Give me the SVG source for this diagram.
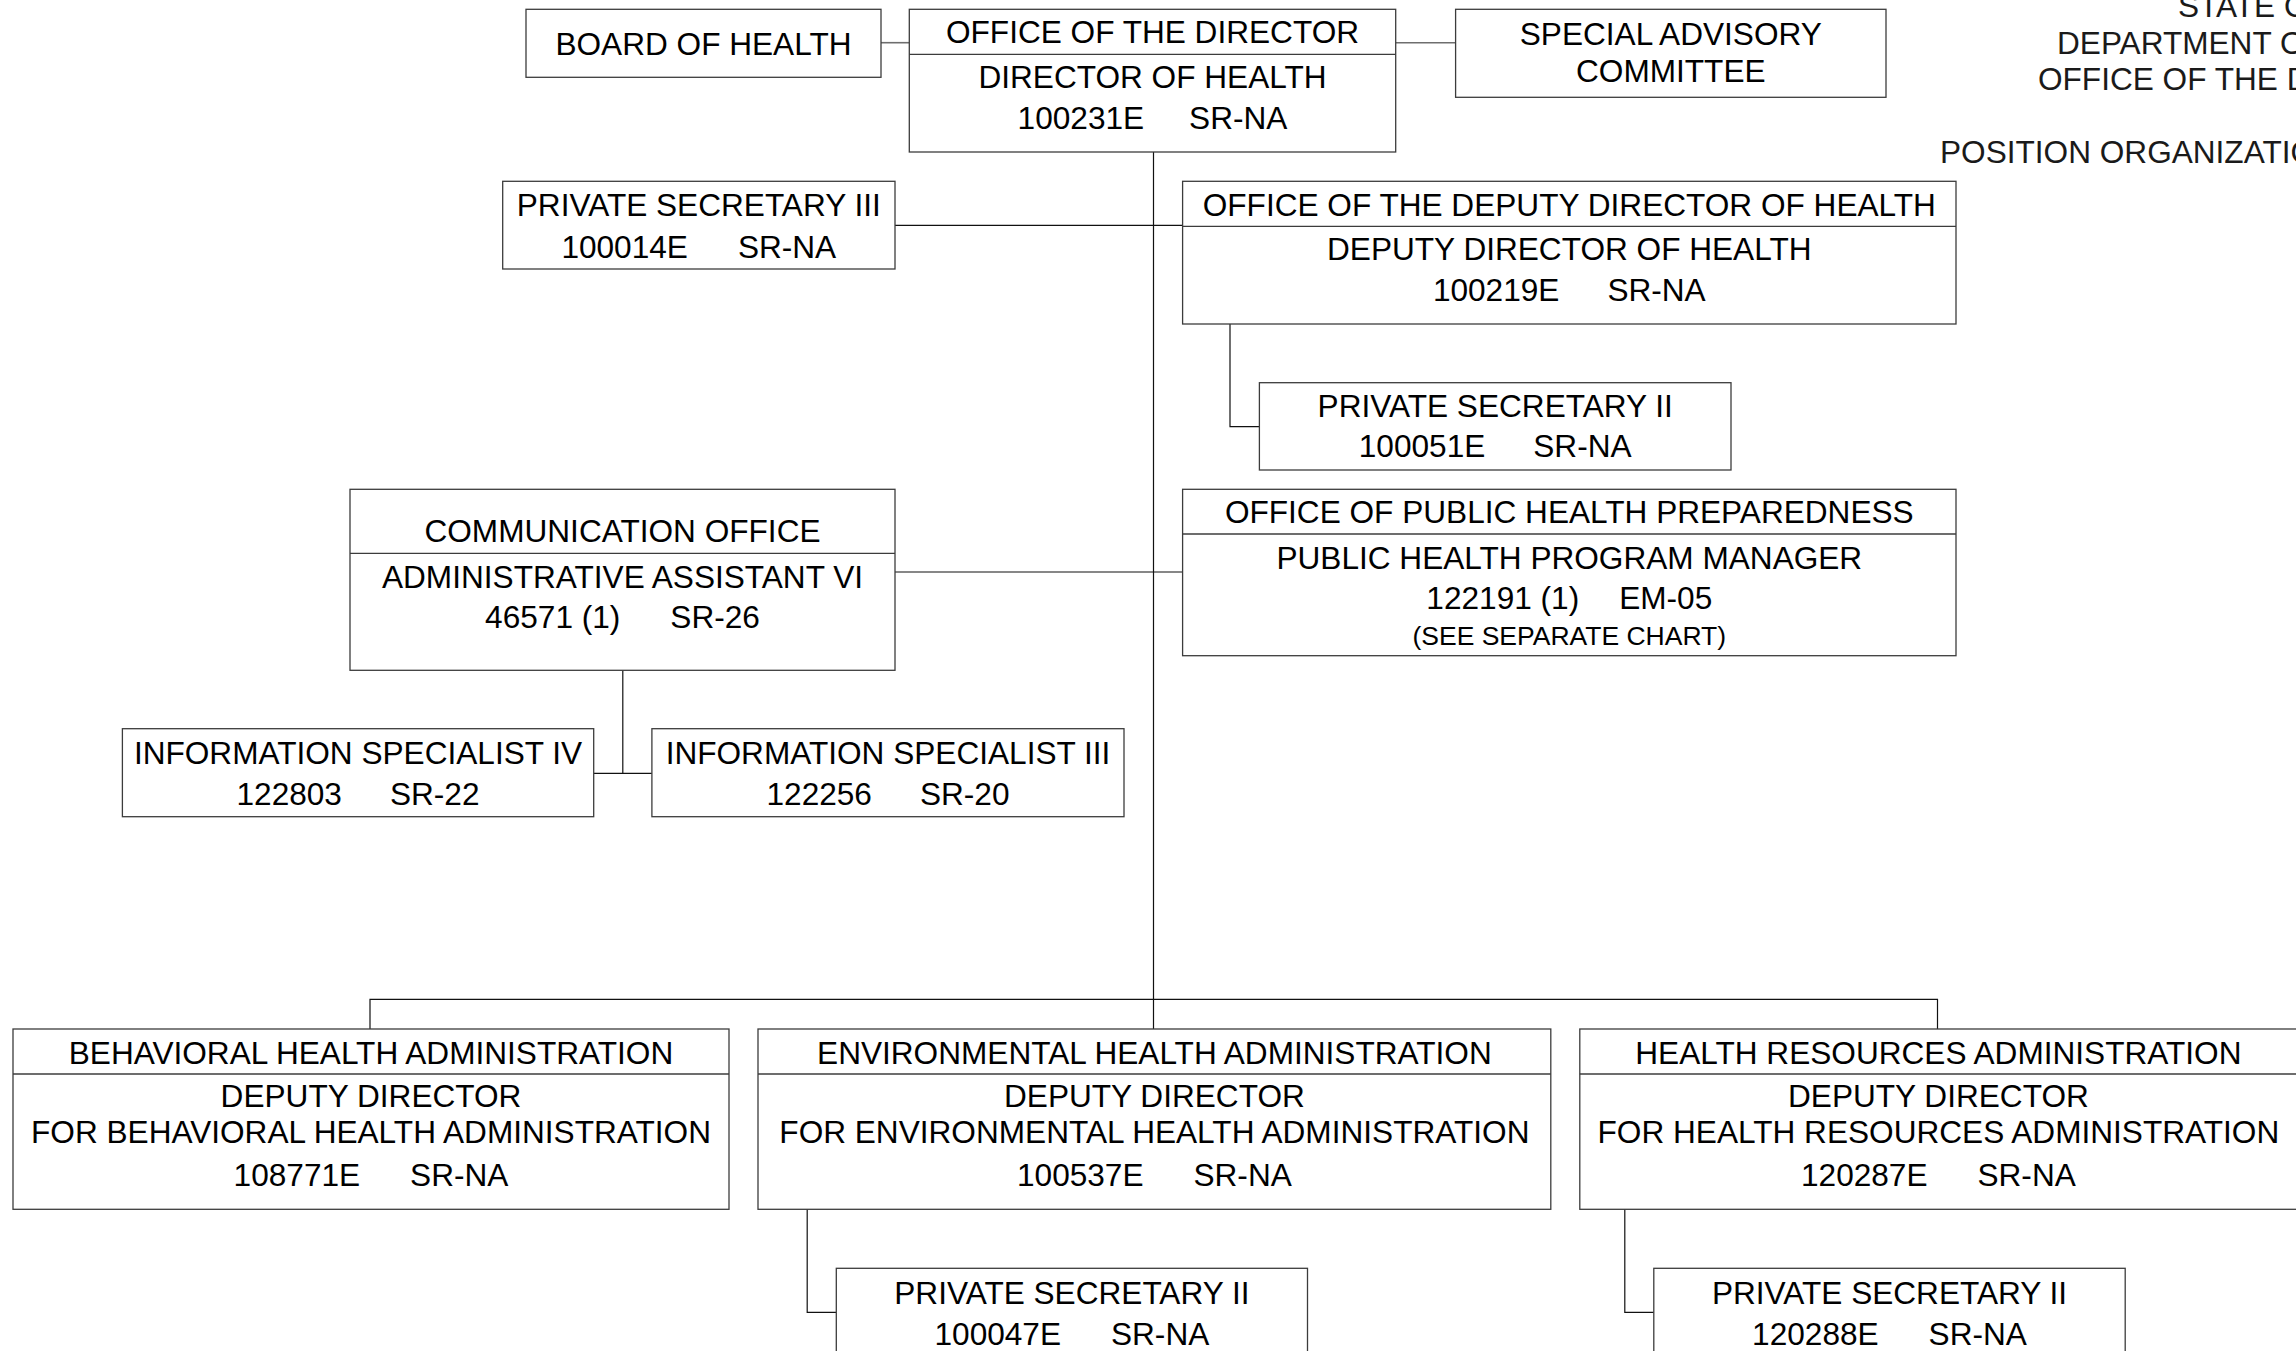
<svg xmlns="http://www.w3.org/2000/svg" width="2296" height="1351" viewBox="0 0 2296 1351">
<style>
.bg{fill:#fff}
.box{fill:#fff;stroke:#3c3c3c;stroke-width:1.3}
.div{stroke:#3c3c3c;stroke-width:1.3;fill:none}
.t{font-family:"Liberation Sans",Arial,sans-serif;font-size:31.6px;fill:#000;text-anchor:middle}
.s{font-size:26.5px}
.h{font-family:"Liberation Sans",Arial,sans-serif;font-size:31.6px;fill:#1a1a1a;text-anchor:start}
.c{stroke:#111;stroke-width:1.2;fill:none}
.g{stroke:#6e6e6e;stroke-width:1.6;fill:none}
</style>
<rect class="bg" x="0" y="0" width="2296" height="1351"/>

<g id="title">
<text class="h" x="2178" y="17">STATE O</text>
<text class="h" x="2057" y="54">DEPARTMENT O</text>
<text class="h" x="2038" y="90">OFFICE OF THE D</text>
<text class="h" x="1940" y="163">POSITION ORGANIZATIO</text>
</g>

<g id="connectors">
<line class="g" x1="881" y1="42.7" x2="909.3" y2="42.7"/>
<line class="g" x1="1395.7" y1="42.7" x2="1455.6" y2="42.7"/>
<line class="c" x1="1153.5" y1="152" x2="1153.5" y2="1029"/>
<line class="c" x1="895" y1="225.3" x2="1182.6" y2="225.3"/>
<polyline class="c" points="1230,324 1230,426.7 1259.4,426.7"/>
<line class="c" x1="895" y1="572" x2="1182.6" y2="572"/>
<line class="c" x1="622.8" y1="670.3" x2="622.8" y2="773.3"/>
<line class="c" x1="593.7" y1="773.3" x2="651.9" y2="773.3"/>
<polyline class="c" points="370,1029 370,999.3 1937.5,999.3 1937.5,1029"/>
<polyline class="c" points="807.2,1209.3 807.2,1312.3 836.3,1312.3"/>
<polyline class="c" points="1624.8,1209.3 1624.8,1312.3 1653.8,1312.3"/>
</g>

<g id="board-of-health">
<rect class="box" x="526" y="9.3" width="355" height="68"/>
<text class="t" x="703.5" y="55">BOARD OF HEALTH</text>
</g>

<g id="office-of-the-director">
<rect class="box" x="909.3" y="9.3" width="486.4" height="142.7"/>
<line class="div" x1="909.3" y1="54.3" x2="1395.7" y2="54.3"/>
<text class="t" x="1152.5" y="43">OFFICE OF THE DIRECTOR</text>
<text class="t" x="1152.5" y="87.5">DIRECTOR OF HEALTH</text>
<text class="t" x="1152.5" y="128.5">100231E<tspan dx="45">SR-NA</tspan></text>
</g>

<g id="special-advisory-committee">
<rect class="box" x="1455.6" y="9.3" width="430.4" height="88"/>
<text class="t" x="1670.8" y="45">SPECIAL ADVISORY</text>
<text class="t" x="1670.8" y="81.6">COMMITTEE</text>
</g>

<g id="private-secretary-iii">
<rect class="box" x="502.7" y="181.3" width="392.3" height="87.7"/>
<text class="t" x="698.8" y="216">PRIVATE SECRETARY III</text>
<text class="t" x="698.8" y="257.5">100014E<tspan dx="50">SR-NA</tspan></text>
</g>

<g id="deputy-director-of-health">
<rect class="box" x="1182.6" y="181.3" width="773.4" height="142.7"/>
<line class="div" x1="1182.6" y1="226.3" x2="1956" y2="226.3"/>
<text class="t" x="1569.3" y="215.5">OFFICE OF THE DEPUTY DIRECTOR OF HEALTH</text>
<text class="t" x="1569.3" y="259.5">DEPUTY DIRECTOR OF HEALTH</text>
<text class="t" x="1569.3" y="300.5">100219E<tspan dx="48">SR-NA</tspan></text>
</g>

<g id="private-secretary-ii-deputy">
<rect class="box" x="1259.4" y="382.7" width="471.6" height="87.3"/>
<text class="t" x="1495.2" y="417">PRIVATE SECRETARY II</text>
<text class="t" x="1495.2" y="457">100051E<tspan dx="48">SR-NA</tspan></text>
</g>

<g id="communication-office">
<rect class="box" x="350" y="489.3" width="545" height="181"/>
<line class="div" x1="350" y1="553.3" x2="895" y2="553.3"/>
<text class="t" x="622.5" y="542">COMMUNICATION OFFICE</text>
<text class="t" x="622.5" y="587.5">ADMINISTRATIVE ASSISTANT VI</text>
<text class="t" x="622.5" y="628">46571 (1)<tspan dx="50">SR-26</tspan></text>
</g>

<g id="office-of-public-health-preparedness">
<rect class="box" x="1182.6" y="489.3" width="773.4" height="166.4"/>
<line class="div" x1="1182.6" y1="534" x2="1956" y2="534"/>
<text class="t" x="1569.3" y="522.5">OFFICE OF PUBLIC HEALTH PREPAREDNESS</text>
<text class="t" x="1569.3" y="568.5">PUBLIC HEALTH PROGRAM MANAGER</text>
<text class="t" x="1569.3" y="609">122191 (1)<tspan dx="40">EM-05</tspan></text>
<text class="t s" x="1569.3" y="645">(SEE SEPARATE CHART)</text>
</g>

<g id="information-specialist-iv">
<rect class="box" x="122.4" y="728.7" width="471.3" height="88"/>
<text class="t" x="358" y="763.5">INFORMATION SPECIALIST IV</text>
<text class="t" x="358" y="804.5">122803<tspan dx="48">SR-22</tspan></text>
</g>

<g id="information-specialist-iii">
<rect class="box" x="651.9" y="728.7" width="472.1" height="88"/>
<text class="t" x="888" y="763.5">INFORMATION SPECIALIST III</text>
<text class="t" x="888" y="804.5">122256<tspan dx="48">SR-20</tspan></text>
</g>

<g id="behavioral-health-administration">
<rect class="box" x="13" y="1029" width="716" height="180.3"/>
<line class="div" x1="13" y1="1074" x2="729" y2="1074"/>
<text class="t" x="371" y="1063.5">BEHAVIORAL HEALTH ADMINISTRATION</text>
<text class="t" x="371" y="1106.5">DEPUTY DIRECTOR</text>
<text class="t" x="371" y="1143">FOR BEHAVIORAL HEALTH ADMINISTRATION</text>
<text class="t" x="371" y="1185.5">108771E<tspan dx="50">SR-NA</tspan></text>
</g>

<g id="environmental-health-administration">
<rect class="box" x="758" y="1029" width="792.8" height="180.3"/>
<line class="div" x1="758" y1="1074" x2="1550.8" y2="1074"/>
<text class="t" x="1154.4" y="1063.5">ENVIRONMENTAL HEALTH ADMINISTRATION</text>
<text class="t" x="1154.4" y="1106.5">DEPUTY DIRECTOR</text>
<text class="t" x="1154.4" y="1143">FOR ENVIRONMENTAL HEALTH ADMINISTRATION</text>
<text class="t" x="1154.4" y="1185.5">100537E<tspan dx="50">SR-NA</tspan></text>
</g>

<g id="health-resources-administration">
<rect class="box" x="1579.8" y="1029" width="717.2" height="180.3"/>
<line class="div" x1="1579.8" y1="1074" x2="2297" y2="1074"/>
<text class="t" x="1938.4" y="1063.5">HEALTH RESOURCES ADMINISTRATION</text>
<text class="t" x="1938.4" y="1106.5">DEPUTY DIRECTOR</text>
<text class="t" x="1938.4" y="1143">FOR HEALTH RESOURCES ADMINISTRATION</text>
<text class="t" x="1938.4" y="1185.5">120287E<tspan dx="50">SR-NA</tspan></text>
</g>

<g id="private-secretary-ii-environmental">
<rect class="box" x="836.3" y="1268.3" width="471.2" height="95"/>
<text class="t" x="1071.9" y="1304">PRIVATE SECRETARY II</text>
<text class="t" x="1071.9" y="1345">100047E<tspan dx="50">SR-NA</tspan></text>
</g>

<g id="private-secretary-ii-health-resources">
<rect class="box" x="1653.8" y="1268.3" width="471.4" height="95"/>
<text class="t" x="1889.5" y="1304">PRIVATE SECRETARY II</text>
<text class="t" x="1889.5" y="1345">120288E<tspan dx="50">SR-NA</tspan></text>
</g>
</svg>
